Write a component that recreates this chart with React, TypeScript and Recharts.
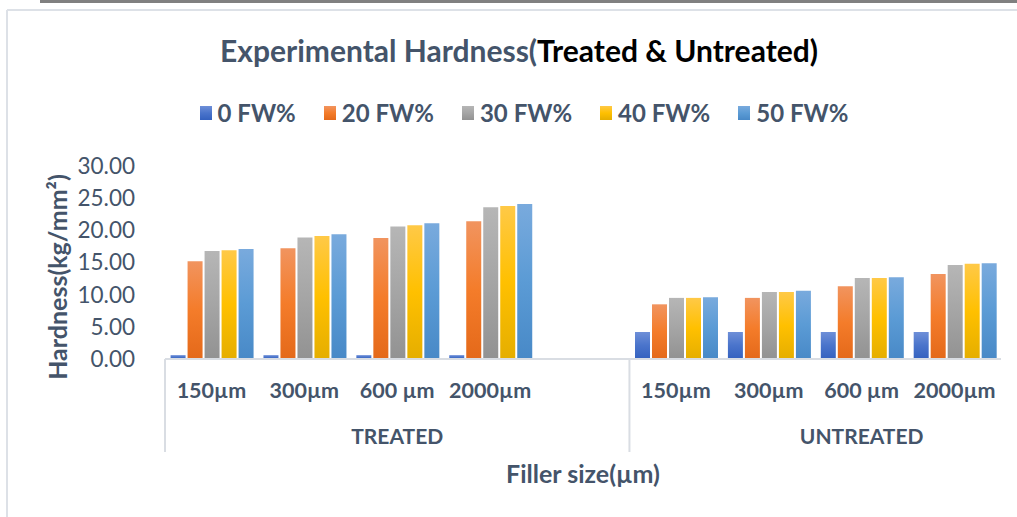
import React from "react";
import { BarChart, Bar, XAxis, YAxis } from "recharts";

const sizes = ["150µm", "300µm", "600 µm", "2000µm", "", "150µm", "300µm", "600 µm", "2000µm"];
const groupLabels: Record<number, string> = { 2: "TREATED", 7: "UNTREATED" };
const groupStarts = [0, 5];

const seriesNames = ["0 FW%", "20 FW%", "30 FW%", "40 FW%", "50 FW%"];
const fw0 = [0.6, 0.6, 0.6, 0.6, null, 4.2, 4.2, 4.2, 4.2];
const fw20 = [15.2, 17.2, 18.8, 21.4, null, 8.5, 9.5, 11.3, 13.2];
const fw30 = [16.8, 18.9, 20.6, 23.6, null, 9.5, 10.4, 12.6, 14.6];
const fw40 = [16.9, 19.1, 20.8, 23.8, null, 9.5, 10.4, 12.6, 14.8];
const fw50 = [17.1, 19.4, 21.1, 24.1, null, 9.6, 10.6, 12.7, 14.9];
const yTicks = [0, 5, 10, 15, 20, 25, 30];

// excel-like vertical gradients: light top, base middle, dark bottom
const gradients = [
  ["#6E8FD8", "#4A74CB", "#3461BF"],
  ["#F1945F", "#F47C2A", "#E4691A"],
  ["#B6B6B6", "#A5A5A5", "#929292"],
  ["#FFC947", "#FFC000", "#E5AE00"],
  ["#79AADD", "#5B9BD5", "#4889C7"],
];

const data = sizes.map((size, i) => ({
  size,
  s0: fw0[i],
  s1: fw20[i],
  s2: fw30[i],
  s3: fw40[i],
  s4: fw50[i],
}));

const W = 1017;
const H = 517;
const PLOT_LEFT = 165;
const PLOT_RIGHT = 1001;
const PLOT_TOP = 166;
const PLOT_BOTTOM = 359;
const Y_AXIS_W = 80;
const X_AXIS_H = 100;
const BAND = (PLOT_RIGHT - PLOT_LEFT) / sizes.length;

const TEXT = "#44546A";
const FONT = "Lato, 'Open Sans', sans-serif";

const SizeTick = (props: any) => {
  const { x, y, index, payload } = props;
  return (
    <g>
      <text
        x={x}
        y={y + 39}
        textAnchor="middle"
        fontFamily={FONT}
        fontWeight={700}
        fontSize={21.5}
        fill={TEXT}
      >
        {payload.value}
      </text>
      {groupLabels[index] && (
        <text
          x={x}
          y={y + 85}
          textAnchor="middle"
          fontFamily={FONT}
          fontWeight={700}
          fontSize={21}
          fill={TEXT}
        >
          {groupLabels[index]}
        </text>
      )}
      {groupStarts.includes(index) && (
        <line x1={x - BAND / 2} x2={x - BAND / 2} y1={y} y2={y + 93} stroke="#D9DDE3" strokeWidth={2} />
      )}
    </g>
  );
};

export default function App() {
  return (
    <div
      style={{
        position: "relative",
        width: W,
        height: H,
        background: "#fff",
        fontFamily: FONT,
        overflow: "hidden",
      }}
    >
      <style>{"html, body { margin: 0; padding: 0; overflow: hidden; background: #fff; }"}</style>
      {/* strip along the top edge and the box outline on the left/top */}
      <svg width={W} height={H} style={{ position: "absolute", left: 0, top: 0 }}>
        <rect x={40} y={0} width={W - 40} height={3} fill="#808080" />
        <line x1={7} y1={10} x2={W} y2={10} stroke="#DDE1E7" strokeWidth={2} />
        <line x1={7} y1={10} x2={7} y2={H} stroke="#DDE1E7" strokeWidth={2} />
      </svg>

      <div
        style={{
          position: "absolute",
          left: 0,
          top: 31,
          width: 1038,
          textAlign: "center",
          fontSize: 30,
          fontWeight: 700,
          lineHeight: "38px",
          color: TEXT,
          whiteSpace: "nowrap",
        }}
      >
        Experimental Hardness(<span style={{ color: "#000" }}>Treated &amp; Untreated)</span>
      </div>

      <div
        style={{
          position: "absolute",
          left: 0,
          top: 98,
          width: 1048,
          display: "flex",
          justifyContent: "center",
          gap: 28,
          fontSize: 24,
          fontWeight: 700,
          lineHeight: "30px",
          color: TEXT,
        }}
      >
        {seriesNames.map((name, i) => (
          <div key={name} style={{ display: "flex", alignItems: "center", gap: 6 }}>
            <svg width={12} height={14}>
              <defs>
                <linearGradient id={`lg${i}`} x1="0" y1="0" x2="0" y2="1">
                  <stop offset="0%" stopColor={gradients[i][0]} />
                  <stop offset="50%" stopColor={gradients[i][1]} />
                  <stop offset="100%" stopColor={gradients[i][2]} />
                </linearGradient>
              </defs>
              <rect width={12} height={14} fill={`url(#lg${i})`} />
            </svg>
            <span>{name}</span>
          </div>
        ))}
      </div>

      <div style={{ position: "absolute", left: 0, top: 0 }}>
        <BarChart
          width={W}
          height={H}
          data={data}
          margin={{
            top: PLOT_TOP,
            right: W - PLOT_RIGHT,
            left: PLOT_LEFT - Y_AXIS_W,
            bottom: H - PLOT_BOTTOM - X_AXIS_H,
          }}
          barCategoryGap="6%"
          barGap={2}
        >
          <defs>
            {gradients.map((g, i) => (
              <linearGradient key={i} id={`bar${i}`} x1="0" y1="0" x2="0" y2="1">
                <stop offset="0%" stopColor={g[0]} />
                <stop offset="50%" stopColor={g[1]} />
                <stop offset="100%" stopColor={g[2]} />
              </linearGradient>
            ))}
          </defs>
          <XAxis
            dataKey="size"
            height={X_AXIS_H}
            axisLine={{ stroke: "#D9DDE3", strokeWidth: 2 }}
            tickLine={false}
            tickSize={0}
            tickMargin={0}
            interval={0}
            tick={<SizeTick />}
          />
          <YAxis
            width={Y_AXIS_W}
            domain={[0, 30]}
            ticks={yTicks}
            tickFormatter={(v: number) => v.toFixed(2)}
            axisLine={false}
            tickLine={false}
            tickSize={6}
            tickMargin={24}
            tick={{ fill: TEXT, fontSize: 22.5, fontFamily: FONT }}
          />
          {seriesNames.map((name, i) => (
            <Bar key={name} dataKey={`s${i}`} name={name} fill={`url(#bar${i})`} isAnimationActive={false} />
          ))}
        </BarChart>
      </div>

      <div
        style={{
          position: "absolute",
          left: 57,
          top: 277,
          transform: "translate(-50%, -50%) rotate(-90deg)",
          fontSize: 25,
          fontWeight: 700,
          color: TEXT,
          whiteSpace: "nowrap",
        }}
      >
        Hardness(kg/mm²)
      </div>

      <div
        style={{
          position: "absolute",
          left: 0,
          top: 458,
          width: 2 * 583,
          textAlign: "center",
          fontSize: 25,
          fontWeight: 700,
          lineHeight: "30px",
          color: TEXT,
        }}
      >
        Filler size(µm)
      </div>
    </div>
  );
}
